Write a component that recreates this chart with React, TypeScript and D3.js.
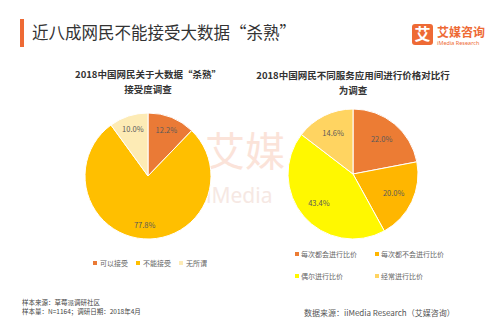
import React from "react";
import * as d3 from "d3";

const leftCategories = ["可以接受", "不能接受", "无所谓"];
const leftValues = [12.2, 77.8, 10.0];
const leftColors = ["#EA7A36", "#FFBF00", "#FDEBB5"];

const rightCategories = ["每次都会进行比价", "每次都不会进行比价", "偶尔进行比价", "经常进行比价"];
const rightValues = [22.0, 20.0, 43.4, 14.6];
const rightColors = ["#EC7C34", "#FFB600", "#FFF800", "#FFD461"];

const FONT = "'Noto Sans CJK SC', 'Noto Sans', sans-serif";

function Pie({ cx, cy, r, values, colors, labelR }: any) {
  const pie = d3.pie<number>().sort(null).value((d) => d);
  const arcs = pie(values);
  const arcGen = d3.arc<any>().innerRadius(0).outerRadius(r);
  const labelArc = d3.arc<any>().innerRadius(labelR).outerRadius(labelR);
  return (
    <g transform={`translate(${cx},${cy})`}>
      {arcs.map((a, i) => (
        <path key={i} d={arcGen(a) as string} fill={colors[i]} stroke="#fff" strokeWidth={1} />
      ))}
      {arcs.map((a, i) => {
        const [x, y] = labelArc.centroid(a);
        return (
          <text key={"t" + i} x={x} y={y} dy="0.35em" textAnchor="middle" fontSize={7.5} fill="#5a5a5a" fontFamily={FONT}>
            {values[i].toFixed(1)}%
          </text>
        );
      })}
    </g>
  );
}

export default function App() {
  return (
    <svg width={500} height={325} style={{ position: "absolute", left: 0, top: 0, background: "#fff" }}>
      <rect x={0} y={0} width={500} height={325} fill="#fff" />
      {/* title */}
      <rect x={20} y={19} width={4} height={28} fill="#EE6A35" />
      <text x={32} y={39} fontSize={16.5} fill="#333" fontFamily={FONT}>近八成网民不能接受大数据“杀熟”</text>
      {/* logo */}
      <rect x={412} y={24} width={21} height={21} rx={3} fill="#EE6A35" />
      <text x={422.5} y={40} textAnchor="middle" fontSize={16} fontWeight="bold" fill="#fff" fontFamily={FONT}>艾</text>
      <text x={437} y={37} fontSize={12} fontWeight="bold" fill="#EE6A35" fontFamily={FONT}>艾媒咨询</text>
      <text x={437} y={45} fontSize={5.5} fill="#EE6A35" fontFamily="'Noto Sans', sans-serif">iMedia Research</text>

      {/* watermark */}
      <text x={205} y={166} fontSize={40} fill="#FBE3D9" fontFamily={FONT}>艾媒</text>
      <text x={206} y={203} fontSize={21} fill="#F6E8E3" fontFamily="'Noto Sans', sans-serif">iMedia</text>

      {/* subtitles */}
      <text x={148} y={78} textAnchor="middle" fontSize={9.5} fontWeight="bold" fill="#333" fontFamily={FONT}>2018中国网民关于大数据“杀熟”</text>
      <text x={148} y={93} textAnchor="middle" fontSize={9.5} fontWeight="bold" fill="#333" fontFamily={FONT}>接受度调查</text>
      <text x={353} y={79} textAnchor="middle" fontSize={9.5} fontWeight="bold" fill="#333" fontFamily={FONT}>2018中国网民不同服务应用间进行价格对比行</text>
      <text x={353} y={94} textAnchor="middle" fontSize={9.5} fontWeight="bold" fill="#333" fontFamily={FONT}>为调查</text>

      <Pie cx={148} cy={176} r={63} values={leftValues} colors={leftColors} labelR={49} />
      <Pie cx={353} cy={174} r={65} values={rightValues} colors={rightColors} labelR={45} />

      {/* left legend */}
      {leftCategories.map((c, i) => {
        const x = 93 + i * 43;
        return (
          <g key={c}>
            <rect x={x} y={261} width={4} height={4} fill={leftColors[i]} />
            <text x={x + 7} y={266} fontSize={7} fill="#666" fontFamily={FONT}>{c}</text>
          </g>
        );
      })}
      {/* right legend */}
      {rightCategories.map((c, i) => {
        const x = 295 + (i % 2) * 80;
        const y = 252 + Math.floor(i / 2) * 22;
        return (
          <g key={c}>
            <rect x={x} y={y} width={4} height={4} fill={rightColors[i]} />
            <text x={x + 6} y={y + 5} fontSize={7} fill="#666" fontFamily={FONT}>{c}</text>
          </g>
        );
      })}

      {/* footers */}
      <text x={22} y={305} fontSize={6.5} fill="#444" fontFamily={FONT}>样本来源：草莓派调研社区</text>
      <text x={22} y={314} fontSize={6.5} fill="#444" fontFamily={FONT}>样本量：N=1164；调研日期：2018年4月</text>
      <text x={304} y={316} fontSize={8} fill="#555" fontFamily={FONT}>数据来源：iiMedia Research（艾媒咨询）</text>
    </svg>
  );
}
